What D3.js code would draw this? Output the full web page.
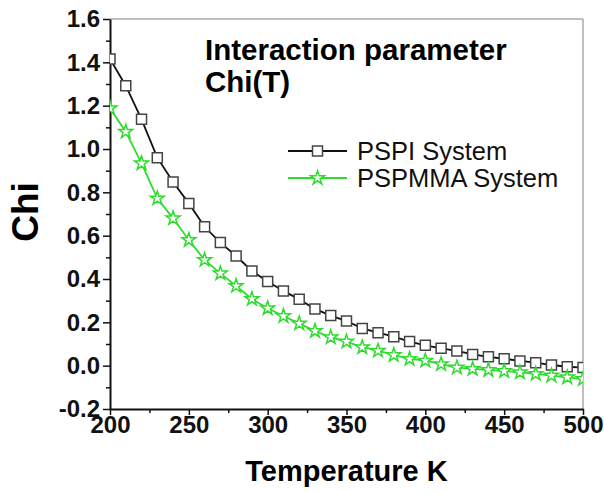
<!DOCTYPE html>
<html>
<head>
<meta charset="utf-8">
<script src="https://cdn.jsdelivr.net/npm/d3@7"></script>
<style>
  body { margin: 0; background: #fff; }
  text { font-family: "Liberation Sans", Arial, sans-serif; }
</style>
</head>
<body>
<div id="chart"></div>
<script>
// temperatures (K)
const temps = [200, 210, 220, 230, 240, 250, 260, 270, 280, 290, 300,
               310, 320, 330, 340, 350, 360, 370, 380, 390, 400,
               410, 420, 430, 440, 450, 460, 470, 480, 490, 500];

// Chi values
const pspi = [1.415, 1.292, 1.137, 0.960, 0.848, 0.749, 0.641, 0.568, 0.506, 0.437, 0.388,
              0.345, 0.306, 0.262, 0.231, 0.206, 0.172, 0.152, 0.134, 0.111, 0.094,
              0.080, 0.068, 0.052, 0.041, 0.032, 0.022, 0.014, 0.003, -0.005, -0.009];
const pspmma = [1.188, 1.080, 0.934, 0.772, 0.680, 0.580, 0.488, 0.426, 0.368, 0.308, 0.265,
                0.229, 0.195, 0.160, 0.131, 0.111, 0.085, 0.069, 0.049, 0.031, 0.023,
                0.007, -0.009, -0.015, -0.020, -0.025, -0.031, -0.038, -0.046, -0.054, -0.062];

const xTicks = [200, 250, 300, 350, 400, 450, 500];
const yTicks = [-0.2, 0.0, 0.2, 0.4, 0.6, 0.8, 1.0, 1.2, 1.4, 1.6];
const seriesNames = ["PSPI System", "PSPMMA System"];

const W = 604, H = 493;
const margin = {top: 19, right: 21, bottom: 84, left: 110};
const width = W - margin.left - margin.right;
const height = H - margin.top - margin.bottom;

const black = "#111", green = "#2ddc2d";

const svg = d3.select("#chart").append("svg")
    .attr("width", W).attr("height", H);

const g = svg.append("g")
    .attr("transform", "translate(" + margin.left + "," + margin.top + ")");

const x = d3.scaleLinear().domain([200, 500]).range([0, width]);
const y = d3.scaleLinear().domain([-0.2, 1.6]).range([height, 0]);

// clip for the markers
svg.append("defs").append("clipPath").attr("id", "plotClip")
    .append("rect").attr("width", width).attr("height", height);

// frame top / right (gray)
g.append("line").attr("x1", 0).attr("x2", width).attr("y1", 0).attr("y2", 0)
    .attr("stroke", "#aaa").attr("stroke-width", 1.5);
g.append("line").attr("x1", width).attr("x2", width).attr("y1", 0).attr("y2", height)
    .attr("stroke", "#aaa").attr("stroke-width", 1.5);

// minor ticks
g.append("g").attr("transform", "translate(0," + height + ")")
    .call(d3.axisBottom(x).tickValues(d3.range(225, 500, 50)).tickSize(4).tickFormat(""))
    .call(a => a.select(".domain").remove())
    .selectAll("line").attr("stroke", black).attr("stroke-width", 1.5);
g.append("g")
    .call(d3.axisLeft(y).tickValues(d3.range(-0.1, 1.6, 0.2)).tickSize(4).tickFormat(""))
    .call(a => a.select(".domain").remove())
    .selectAll("line").attr("stroke", black).attr("stroke-width", 1.5);

// x axis
const xAxis = g.append("g").attr("transform", "translate(0," + height + ")")
    .call(d3.axisBottom(x).tickValues(xTicks).tickSize(6).tickSizeOuter(0).tickPadding(1));
xAxis.select(".domain").attr("stroke", black).attr("stroke-width", 2);
xAxis.selectAll("line").attr("stroke", black).attr("stroke-width", 1.5);
xAxis.selectAll("text").style("font-size", "24px").style("font-weight", "bold").attr("fill", black);

// y axis (plain hyphen for negatives like the original)
const fmt = d3.format(".1f");
const yAxis = g.append("g")
    .call(d3.axisLeft(y).tickValues(yTicks).tickSize(7).tickSizeOuter(0).tickPadding(3)
        .tickFormat(d => fmt(d).replace("\u2212", "-")));
yAxis.select(".domain").attr("stroke", black).attr("stroke-width", 2);
yAxis.selectAll("line").attr("stroke", black).attr("stroke-width", 1.5);
yAxis.selectAll("text").style("font-size", "24px").style("font-weight", "bold").attr("fill", black);

// axis labels
g.append("text")
    .attr("x", width / 2).attr("y", 481 - margin.top)
    .attr("text-anchor", "middle")
    .style("font-size", "29px").style("font-weight", "bold")
    .text("Temperature K");

g.append("text")
    .attr("transform", "rotate(-90)")
    .attr("x", -(212 - margin.top)).attr("y", -72)
    .attr("text-anchor", "middle")
    .style("font-size", "37px").style("font-weight", "bold")
    .text("Chi");

// title
g.append("text").attr("x", 205 - margin.left).attr("y", 60 - margin.top)
    .style("font-size", "29.5px").style("font-weight", "bold").text("Interaction parameter");
g.append("text").attr("x", 205 - margin.left).attr("y", 92 - margin.top)
    .style("font-size", "29.5px").style("font-weight", "bold").text("Chi(T)");

// series
const series = [
    {name: seriesNames[0], values: pspi, color: black, mark: "#444", symbol: d3.symbolSquare, size: 100},
    {name: seriesNames[1], values: pspmma, color: green, mark: green, symbol: d3.symbolStar, size: 60}
];

const line = d3.line().x((d, i) => x(temps[i])).y(d => y(d));
const plot = g.append("g").attr("clip-path", "url(#plotClip)");

series.forEach(s => {
    plot.append("path").datum(s.values)
        .attr("d", line).attr("fill", "none")
        .attr("stroke", s.color).attr("stroke-width", 1.8);
});
series.forEach(s => {
    plot.selectAll(null).data(s.values).join("path")
        .attr("transform", (d, i) => "translate(" + x(temps[i]) + "," + y(d) + ")")
        .attr("d", d3.symbol().type(s.symbol).size(s.size))
        .attr("fill", "#fff").attr("stroke", s.mark).attr("stroke-width", 1.5);
});

// legend
const legend = g.append("g").attr("transform", "translate(" + (288 - margin.left) + "," + (151 - margin.top) + ")");
series.forEach((s, i) => {
    const row = legend.append("g").attr("transform", "translate(0," + i * 27 + ")");
    row.append("line").attr("x1", 0).attr("x2", 59).attr("stroke", s.color).attr("stroke-width", 1.8);
    row.append("path").attr("transform", "translate(29.5,0)")
        .attr("d", d3.symbol().type(s.symbol).size(s.size))
        .attr("fill", "#fff").attr("stroke", s.mark).attr("stroke-width", 1.5);
    row.append("text").attr("x", 69).attr("y", 9)
        .style("font-size", "25.5px").attr("fill", black).text(s.name);
});
</script>
</body>
</html>
